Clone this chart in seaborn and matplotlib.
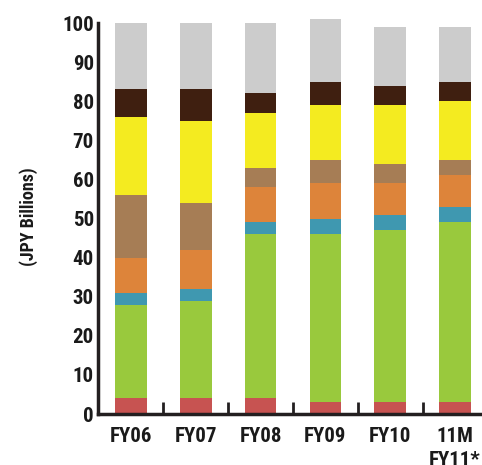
import matplotlib
matplotlib.use("Agg")
import matplotlib.pyplot as plt
import seaborn as sns
import numpy as np
import pandas as pd
from matplotlib.ticker import FixedLocator

categories = ["FY06", "FY07", "FY08", "FY09", "FY10", "11M\nFY11*"]
red = [4, 4, 4, 3, 3, 3]
green = [24, 25, 42, 43, 44, 46]
teal = [3, 3, 3, 4, 4, 4]
orange = [9, 10, 9, 9, 8, 8]
tan = [16, 12, 5, 6, 5, 4]
yellow = [20, 21, 14, 14, 15, 15]
dark = [7, 8, 5, 6, 5, 5]
gray = [17, 17, 18, 16, 15, 14]
yticks = [0, 10, 20, 30, 40, 50, 60, 70, 80, 90, 100]

series = [red, green, teal, orange, tan, yellow, dark, gray]
colors = ["#c75351", "#99c93d", "#3f98b0", "#dd843a", "#a67d55", "#f4eb20", "#3f1f10", "#cccccc"]

sns.set_theme(style="white")
plt.rcParams["font.family"] = ["Roboto Condensed", "Archivo Narrow", "Liberation Sans", "DejaVu Sans"]
plt.rcParams["font.weight"] = "bold"

fig = plt.figure(figsize=(4.82, 4.65), dpi=100)
ax = fig.add_axes([98 / 482, 51 / 465, 384 / 482, (414 - 19.1) / 465])

cum = np.cumsum(np.array(series), axis=0)
for i in range(len(series) - 1, -1, -1):
    df = pd.DataFrame({"cat": categories, "val": cum[i]})
    sns.barplot(data=df, x="cat", y="val", color=colors[i], saturation=1,
                width=0.49, errorbar=None, linewidth=0, ax=ax, order=categories)

ax.set_xlim(-0.509, 5.417)
ax.set_ylim(0, 101)
ax.set_yticks(yticks)
ax.set_yticklabels([str(v) for v in yticks], fontsize=15, fontweight="bold", color="#1a1a1a")
ax.set_xticks(range(len(categories)))
ax.set_xticklabels(categories, fontsize=15, fontweight="bold", color="#1a1a1a", linespacing=1.38)
ax.xaxis.set_minor_locator(FixedLocator([0.5, 1.5, 2.5, 3.5, 4.5]))
ax.tick_params(axis="x", which="major", length=0, pad=9)
ax.tick_params(axis="x", which="minor", direction="in", length=9, width=2, color="#231f20", bottom=True)
ax.tick_params(axis="y", which="major", direction="in", length=10, width=2, color="#231f20", pad=3)
ax.set_xlabel("")
ax.set_ylabel("(JPY Billions)", fontsize=13, fontweight="bold", color="#1a1a1a", labelpad=17)

for s in ["top", "right"]:
    ax.spines[s].set_visible(False)
for s in ["left", "bottom"]:
    ax.spines[s].set_color("#231f20")
    ax.spines[s].set_linewidth(2.5)
ax.spines["left"].set_bounds(0, 100)

fig.savefig("out.png", dpi=100)
